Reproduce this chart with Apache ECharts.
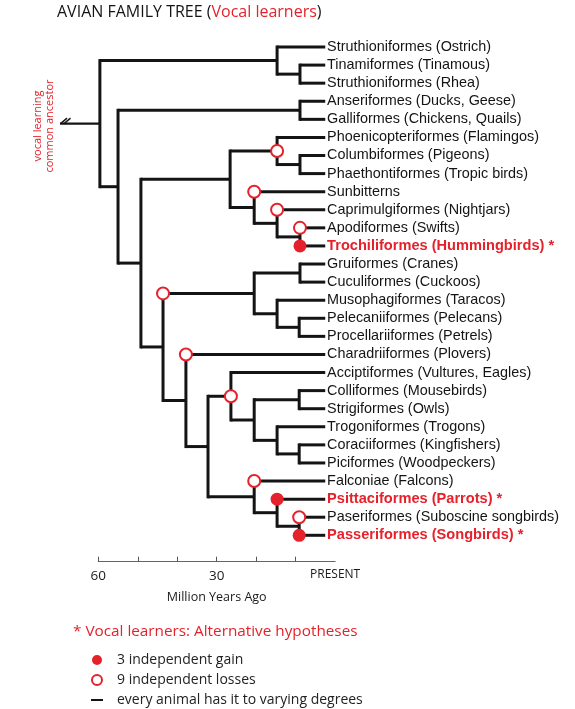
<!DOCTYPE html>
<html>
<head>
<meta charset="utf-8">
<script src="https://cdn.jsdelivr.net/npm/echarts@6/dist/echarts.min.js"></script>
<style>html,body{margin:0;padding:0;background:#fff}#c{width:575px;height:709px}</style>
</head>
<body>
<div id="c"></div>
<script>
// ---- data ----
const leafNames = [
  'Struthioniformes (Ostrich)', 'Tinamiformes (Tinamous)', 'Struthioniformes (Rhea)',
  'Anseriformes (Ducks, Geese)', 'Galliformes (Chickens, Quails)',
  'Phoenicopteriformes (Flamingos)', 'Columbiformes (Pigeons)', 'Phaethontiformes (Tropic birds)',
  'Sunbitterns', 'Caprimulgiformes (Nightjars)', 'Apodiformes (Swifts)', 'Trochiliformes (Hummingbirds)',
  'Gruiformes (Cranes)', 'Cuculiformes (Cuckoos)', 'Musophagiformes (Taracos)',
  'Pelecaniiformes (Pelecans)', 'Procellariiformes (Petrels)', 'Charadriiformes (Plovers)',
  'Acciptiformes (Vultures, Eagles)', 'Colliformes (Mousebirds)', 'Strigiformes (Owls)',
  'Trogoniformes (Trogons)', 'Coraciiformes (Kingfishers)', 'Piciformes (Woodpeckers)',
  'Falconiae (Falcons)', 'Psittaciformes (Parrots)', 'Paseriformes (Suboscine songbirds)',
  'Passeriformes (Songbirds)'
];
const vocalLearners = ['Trochiliformes (Hummingbirds)', 'Psittaciformes (Parrots)', 'Passeriformes (Songbirds)'];
const leafAge = 2.5;      // million years ago where tips end
const rootStubAge = 69.7; // start of the root stub
// internal nodes: name, age (Mya), children (leaf index or node name)
const nodeNames = ['root','palaeo','tinRhea','neo','galloans','neoaves','cladeA','mirand','colPha','sunb','capr','apoTro',
  'cladeB','gruiClade','gruCuc','muso','pelPro','landB','landC','afro','coraciae','colStr','trogCor','corPic','austr','psitPass','passer'];
const nodeAges = [59.6, 14.7, 8.9, 55.0, 8.9, 49.2, 26.6, 14.7, 8.9, 20.5, 14.7, 8.9,
  43.6, 20.5, 8.9, 14.7, 9.1, 37.8, 32.2, 26.4, 20.5, 9.1, 14.7, 9.1, 20.5, 14.7, 9.1];
const nodeChildren = [
  ['palaeo','neo'], [0,'tinRhea'], [1,2], ['galloans','neoaves'], [3,4], ['cladeA','cladeB'],
  ['mirand','sunb'], [5,'colPha'], [6,7], [8,'capr'], [9,'apoTro'], [10,11],
  ['gruiClade','landB'], ['gruCuc','muso'], [12,13], [14,'pelPro'], [15,16], [17,'landC'],
  ['afro','austr'], [18,'coraciae'], ['colStr','trogCor'], [19,20], [21,'corPic'], [22,23],
  [24,'psitPass'], [25,'passer'], [26,27]
];
// markers: [node whose age gives x, leaf index or node name whose row gives y]
const gainMarks = [['apoTro',11], ['psitPass',25], ['passer',27]];
const lossMarks = [['mirand','mirand'], ['sunb',8], ['capr',9], ['apoTro',10], ['cladeB','gruiClade'],
  ['landB',17], ['afro','afro'], ['austr',24], ['passer',26]];
const axisTicks = [10, 20, 30, 40, 50, 60];
const axisLabels = [0, 30, 60];

// ---- build ----
const RED = '#e5222b', INK = '#141414';
const idx = {}; nodeNames.forEach((n, i) => idx[n] = i);
const rowCache = {};
function rowOf(c) {
  if (typeof c === 'number') return c;
  if (rowCache[c] != null) return rowCache[c];
  const ch = nodeChildren[idx[c]];
  return rowCache[c] = (rowOf(ch[0]) + rowOf(ch[ch.length - 1])) / 2;
}
function ageOf(c) { return typeof c === 'number' ? leafAge : nodeAges[idx[c]]; }
const branchData = [];
branchData.push([nodeAges[0], rowOf('root'), rootStubAge, rowOf(nodeChildren[0][0]), rowOf(nodeChildren[0][1]), 1]);
nodeNames.forEach((n, i) => {
  nodeChildren[i].forEach(c => {
    const r = rowOf(c);
    const isNode = typeof c !== 'number';
    const ch = isNode ? nodeChildren[idx[c]] : null;
    branchData.push([ageOf(c), r, nodeAges[i], isNode ? rowOf(ch[0]) : r, isNode ? rowOf(ch[ch.length - 1]) : r, 0]);
  });
});
const gainData = gainMarks.map(m => [nodeAges[idx[m[0]]], rowOf(m[1])]);
const lossData = lossMarks.map(m => [nodeAges[idx[m[0]]], rowOf(m[1])]);

const LINE_NAME = 'every animal has it to varying degrees';
const chart = echarts.init(document.getElementById('c'), null, {renderer: 'canvas'});
chart.setOption({
  animation: false,
  backgroundColor: '#fff',
  title: [{
    text: '{b|AVIAN FAMILY TREE (}{r|Vocal learners}{b|)}',
    left: 57, top: 4, padding: 0,
    textStyle: { fontWeight: 'normal', rich: {
      b: {fontFamily: 'Open Sans', fontSize: 16, fontWeight: 'normal', color: INK},
      r: {fontFamily: 'Open Sans', fontSize: 16, fontWeight: 'normal', color: RED}
    }}
  }, {
    text: '* Vocal learners: Alternative hypotheses',
    left: 73, top: 624, padding: 0,
    textStyle: {fontFamily: 'Open Sans', fontSize: 15.3, fontWeight: 'normal', color: RED}
  }],
  legend: {
    orient: 'vertical', left: 91, top: 653, padding: 0,
    itemWidth: 12, itemHeight: 10, itemGap: 6,
    selectedMode: false,
    textStyle: {fontFamily: 'Open Sans', fontSize: 14, color: '#222', padding: [0, 0, 0, 9]},
    data: [
      {name: '3 independent gain', icon: 'circle'},
      {name: '9 independent losses', icon: 'emptyCircle'},
      {name: LINE_NAME, icon: 'path://M0,0L12,0L12,2L0,2Z', itemStyle: {color: INK}}
    ]
  },
  graphic: [{
    type: 'text', x: 44, y: 126, rotation: Math.PI / 2,
    style: {text: 'vocal learning\ncommon ancestor', fill: RED, font: '11px "Open Sans"',
      align: 'center', verticalAlign: 'middle', lineHeight: 12}
  }],
  grid: {left: 98.3, right: 239.9, top: 47, bottom: 173.7, containLabel: false},
  xAxis: {
    type: 'value', min: 0, max: 60, inverse: true, position: 'bottom', offset: 26.4,
    splitLine: {show: false},
    axisLine: {show: true, onZero: false, lineStyle: {color: '#666', width: 1.2}},
    axisTick: {show: true, inside: true, length: 5, customValues: axisTicks, lineStyle: {color: '#555', width: 1}},
    axisLabel: {
      customValues: axisLabels, margin: 7, color: '#1a1a1a', fontFamily: 'Open Sans', fontSize: 13.5,
      formatter: v => v === 0 ? '{p|PRESENT}' : String(v),
      rich: {p: {fontFamily: 'Open Sans', fontSize: 12, color: '#1a1a1a'}}
    },
    name: 'Million Years Ago', nameLocation: 'middle', nameGap: 29,
    nameTextStyle: {fontFamily: 'Open Sans', fontSize: 12.5, color: '#1a1a1a'}
  },
  yAxis: [{
    type: 'value', min: 0, max: 27, inverse: true, show: false
  }, {
    type: 'category', data: leafNames, inverse: true, boundaryGap: false, position: 'right', offset: -10,
    axisLine: {show: false, onZero: false}, axisTick: {show: false}, splitLine: {show: false},
    axisLabel: {
      margin: 2, interval: 0, fontFamily: 'Liberation Sans', fontSize: 14.4, color: INK,
      formatter: v => vocalLearners.indexOf(v) >= 0 ? '{r|' + v + ' *}' : v,
      rich: {r: {fontFamily: 'Liberation Sans', fontSize: 14.6, fontWeight: 'bold', color: RED}}
    }
  }],
  series: [{
    name: LINE_NAME, type: 'custom', xAxisIndex: 0, yAxisIndex: 0,
    itemStyle: {color: INK},
    encode: {x: 0, y: 1},
    data: branchData,
    renderItem: (params, api) => {
      const age = api.value(0), row = api.value(1), pAge = api.value(2), r0 = api.value(3), r1 = api.value(4), isRoot = api.value(5);
      const p = api.coord([age, row]), pp = api.coord([pAge, row]);
      const a = api.coord([age, r0]), b = api.coord([age, r1]);
      const kids = [{type: 'line', shape: {x1: pp[0], y1: pp[1], x2: p[0], y2: p[1]},
        style: {stroke: INK, lineWidth: isRoot ? 2.2 : 3}}];
      if (r0 !== r1) kids.push({type: 'line', shape: {x1: a[0], y1: a[1], x2: b[0], y2: b[1]},
        style: {stroke: INK, lineWidth: 3, lineCap: 'square'}});
      if (isRoot) {
        kids.push({type: 'line', shape: {x1: pp[0] + 0.5, y1: pp[1], x2: pp[0] + 7, y2: pp[1] - 5.5}, style: {stroke: INK, lineWidth: 1.4}});
        kids.push({type: 'line', shape: {x1: pp[0] + 4, y1: pp[1], x2: pp[0] + 10.5, y2: pp[1] - 5.5}, style: {stroke: INK, lineWidth: 1.4}});
      }
      return {type: 'group', children: kids};
    },
    z: 2
  }, {
    name: '9 independent losses', type: 'scatter', xAxisIndex: 0, yAxisIndex: 0,
    symbol: 'emptyCircle', symbolSize: 12,
    itemStyle: {color: RED, borderColor: RED, borderWidth: 2.2, opacity: 1},
    data: lossData, z: 4
  }, {
    name: '3 independent gain', type: 'scatter', xAxisIndex: 0, yAxisIndex: 0,
    symbol: 'circle', symbolSize: 13,
    itemStyle: {color: RED, opacity: 1},
    data: gainData, z: 4
  }]
});
</script>
</body>
</html>
